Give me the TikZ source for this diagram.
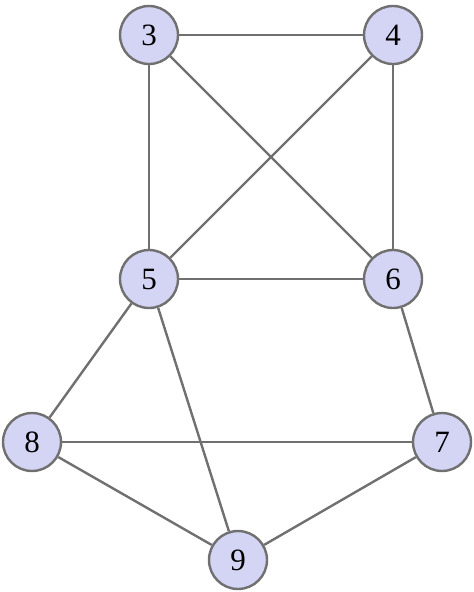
\documentclass[tikz,border=0pt]{standalone}
\usepackage{fontspec}
\setmainfont{Liberation Serif}
\definecolor{nodefill}{HTML}{D4D4F4}
\definecolor{edgegray}{HTML}{707070}
\begin{document}
\begin{tikzpicture}[x=1pt,y=-1pt,
  vert/.style={circle,draw=edgegray,fill=nodefill,line width=2.4pt,minimum size=58pt,inner sep=0pt,font=\fontsize{31}{31}\selectfont},
  edge/.style={draw=edgegray,line width=2.4pt}]
\useasboundingbox (0,0) rectangle (474,592);
\node[vert] (n3) at (149,35) {3};
\node[vert] (n4) at (393,35) {4};
\node[vert] (n5) at (149,279) {5};
\node[vert] (n6) at (393,279) {6};
\node[vert] (n8) at (32,442) {8};
\node[vert] (n7) at (442,442) {7};
\node[vert] (n9) at (238,560) {9};
\begin{scope}[on background layer/.try]
\end{scope}
\path[edge] (n3) -- (n4);
\path[edge] (n3) -- (n5);
\path[edge] (n3) -- (n6);
\path[edge] (n4) -- (n5);
\path[edge] (n4) -- (n6);
\path[edge] (n5) -- (n6);
\path[edge] (n5) -- (n8);
\path[edge] (n5) -- (n9);
\path[edge] (n6) -- (n7);
\path[edge] (n8) -- (n7);
\path[edge] (n8) -- (n9);
\path[edge] (n9) -- (n7);
\end{tikzpicture}
\end{document}
